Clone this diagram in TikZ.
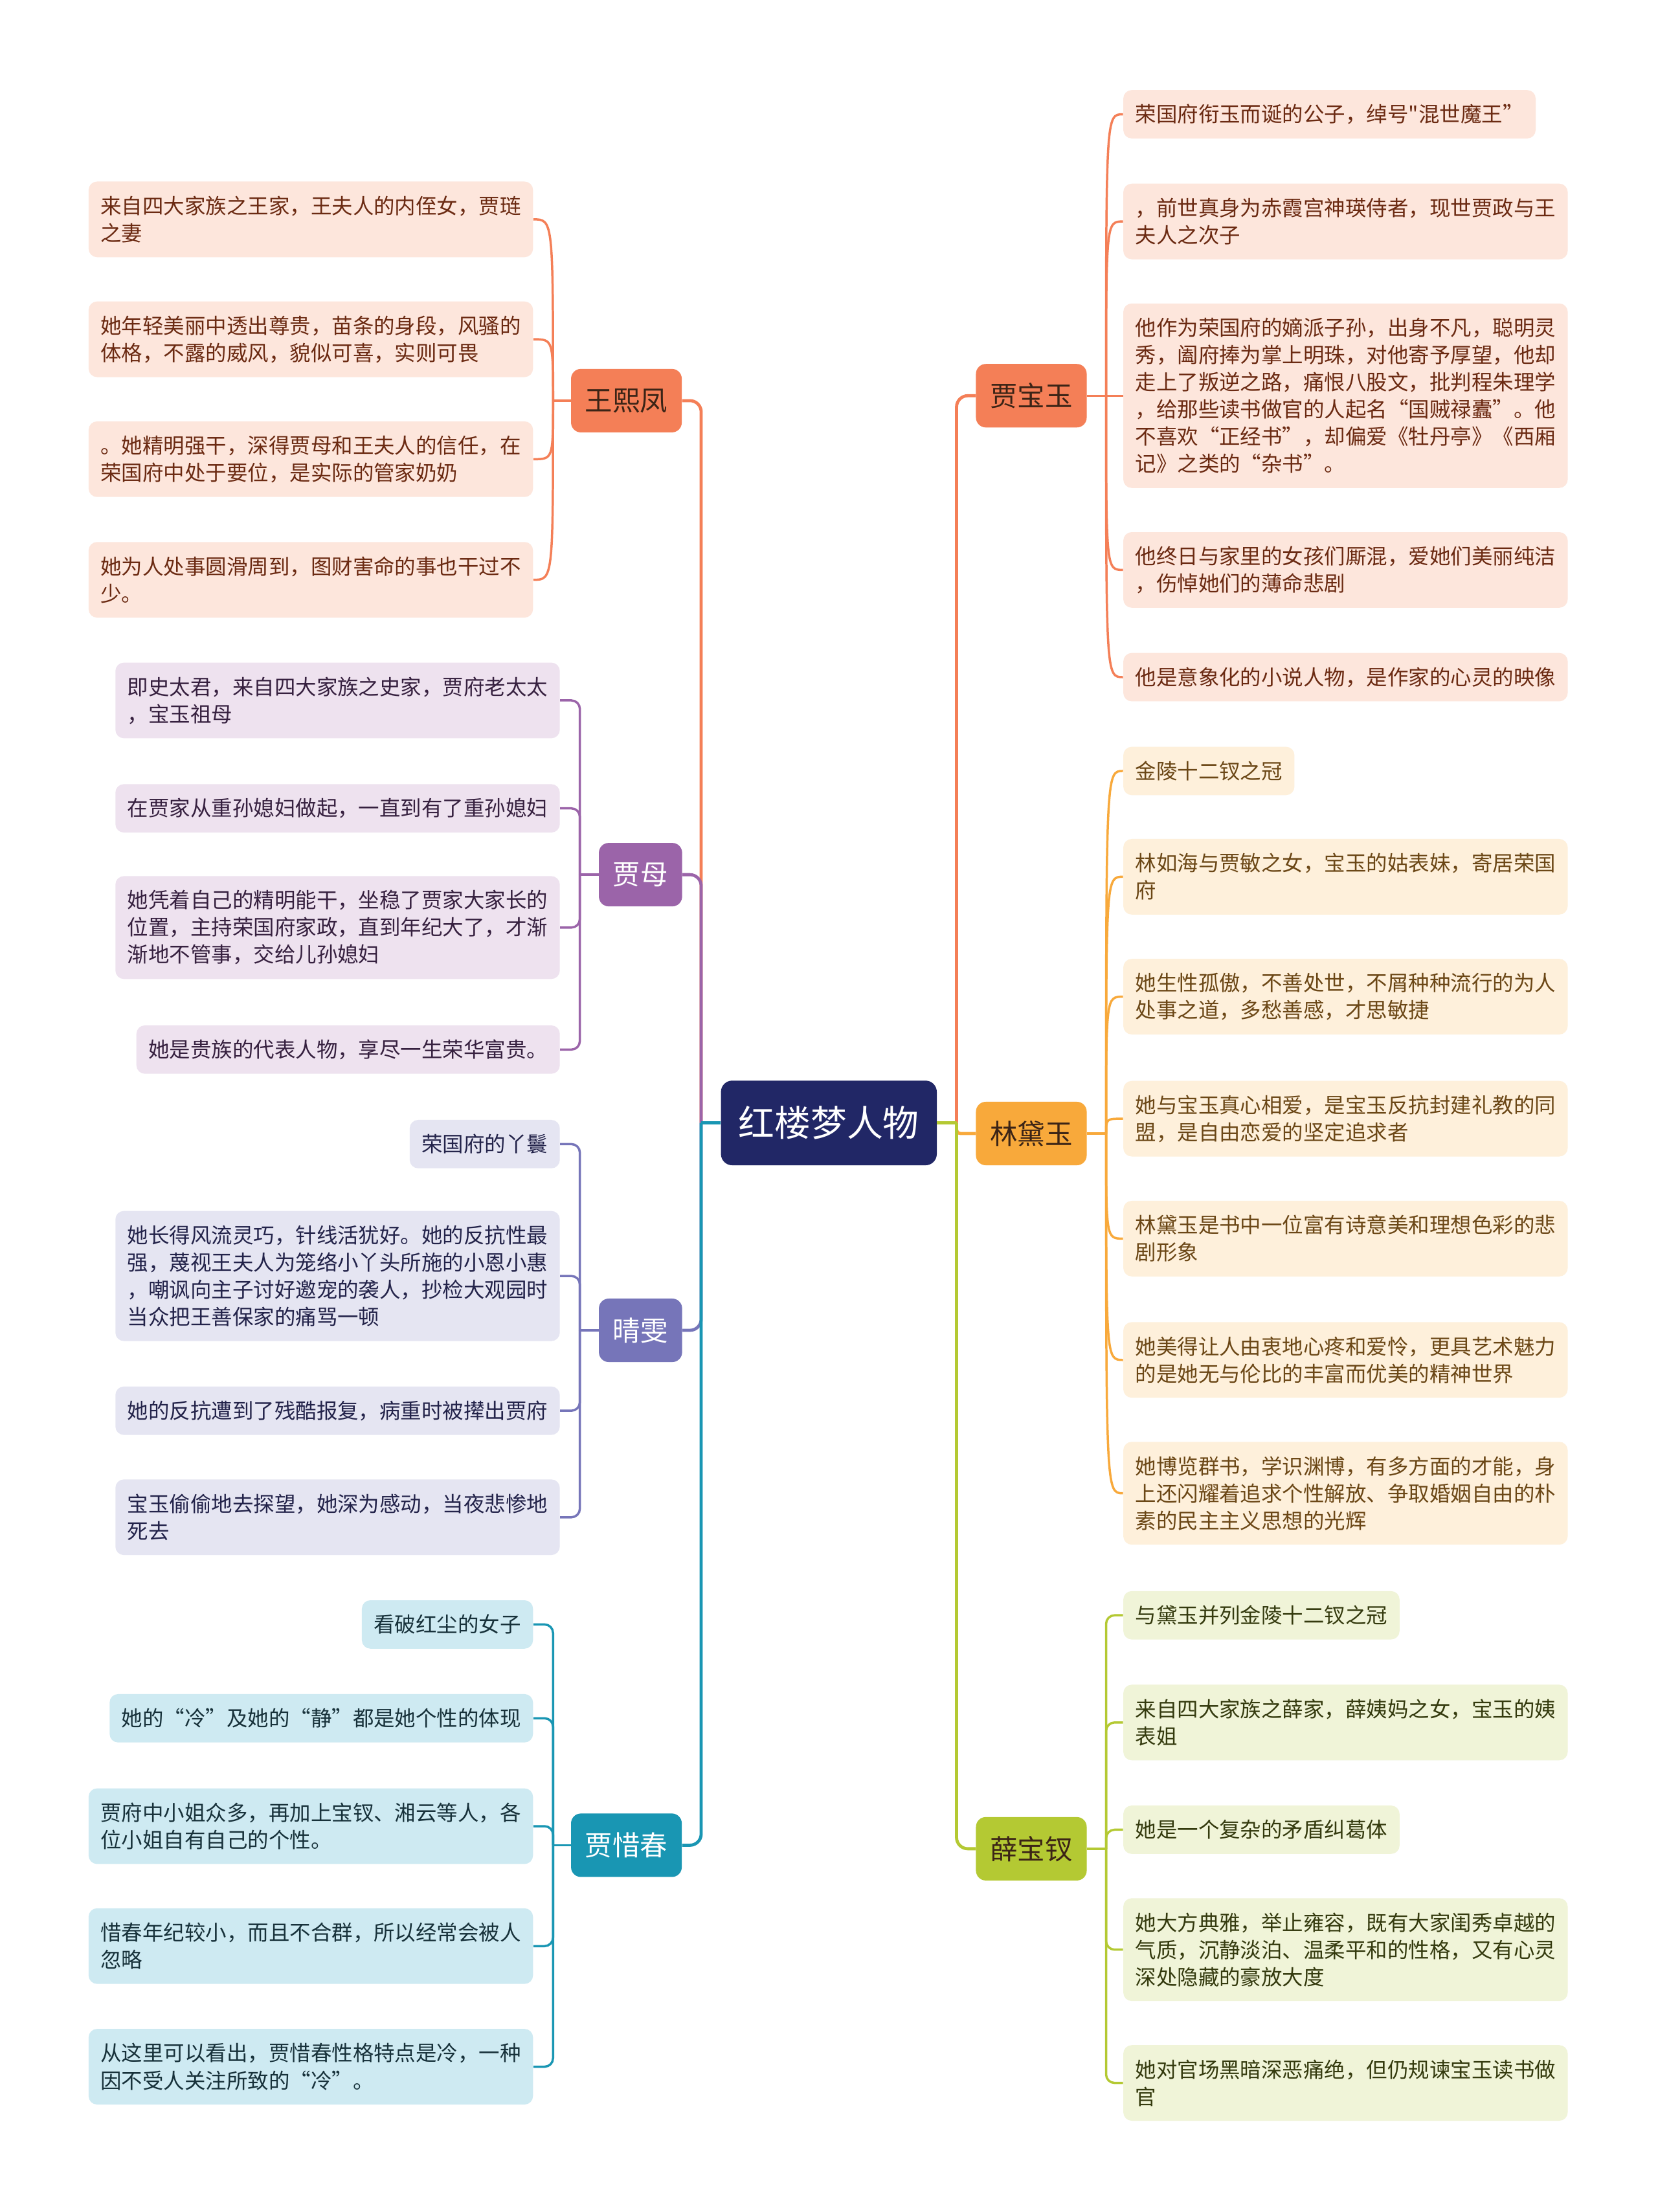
\documentclass[tikz,border=0pt]{standalone}
\usepackage{fontspec}
\setmainfont{Noto Sans CJK SC}
\newfontfamily\rawfont{Noto Sans CJK SC}
\definecolor{cRoot}{HTML}{212766}
\definecolor{cCoral}{HTML}{F47F57}
\definecolor{cOrange}{HTML}{F8A93B}
\definecolor{cGreen}{HTML}{B4C933}
\definecolor{cPurple}{HTML}{9B64A9}
\definecolor{cLav}{HTML}{7675B9}
\definecolor{cTeal}{HTML}{1996B3}
\definecolor{fCoral}{HTML}{FDE6DC}
\definecolor{fOrange}{HTML}{FEF0DB}
\definecolor{fGreen}{HTML}{F0F4D8}
\definecolor{fPurple}{HTML}{EEE2EF}
\definecolor{fLav}{HTML}{E5E5F2}
\definecolor{fTeal}{HTML}{CEEAF2}
\definecolor{tCoral}{HTML}{6B2A12}
\definecolor{tOrange}{HTML}{6B4716}
\definecolor{tGreen}{HTML}{343A0E}
\definecolor{tPurple}{HTML}{36203F}
\definecolor{tLav}{HTML}{23234A}
\definecolor{tTeal}{HTML}{17313A}
\definecolor{tDark}{HTML}{3B2416}
\begin{document}
\begin{tikzpicture}[x=1pt,y=-1pt,
  leaf/.style={rounded corners=6, inner xsep=8.5, inner ysep=0, align=left, font=\fontsize{14.9}{19.3}\selectfont},
  lr/.style={leaf, anchor=west},
  ll/.style={leaf, anchor=east},
  n1/.style={minimum height=34.3},
  n2/.style={minimum height=53.6},
  n3/.style={minimum height=72.9},
  n4/.style={minimum height=92.2},
  n6/.style={minimum height=130.8},
  br/.style={rounded corners=7, minimum height=45, inner xsep=10, inner ysep=0, font=\fontsize{19.5}{23}\selectfont},
  sCoral/.style={fill=fCoral, text=tCoral},
  sOrange/.style={fill=fOrange, text=tOrange},
  sGreen/.style={fill=fGreen, text=tGreen},
  sPurple/.style={fill=fPurple, text=tPurple},
  sLav/.style={fill=fLav, text=tLav},
  sTeal/.style={fill=fTeal, text=tTeal},
  bline/.style={draw=#1, line width=2.2},
  lk/.style={draw=#1, line width=1.6},
]
\useasboundingbox (0,0) rectangle (1175,1568);
\fill[white] (0,0) rectangle (1175,1568);

% root and branches
\node[fill=cRoot, text=white, rounded corners=8, minimum width=153, minimum height=60, inner sep=0, font=\fontsize{25.6}{30}\selectfont] (root) at (587.5,796) {红楼梦人物};
\node[br, fill=cCoral, text=tDark, minimum width=78] (wxf) at (444,284) {王熙凤};
\node[br, fill=cPurple, text=white, minimum width=58] (jm) at (454,620) {贾母};
\node[br, fill=cLav, text=white, minimum width=58] (qw) at (454,943) {晴雯};
\node[br, fill=cTeal, text=white, minimum width=78] (xc) at (444,1308) {贾惜春};
\node[br, fill=cCoral, text=tDark, minimum width=78] (by) at (731,280.5) {贾宝玉};
\node[br, fill=cOrange, text=tDark, minimum width=78] (dy) at (731,803.5) {林黛玉};
\node[br, fill=cGreen, text=tDark, minimum width=78] (bc) at (731,1310.5) {薛宝钗};

% junctions
\coordinate (jl) at (497,796);
\coordinate (jr) at (678,796);
\coordinate (jw) at (392,284);
\coordinate (jjm) at (411,620);
\coordinate (jq) at (411,943);
\coordinate (jx) at (392,1308);
\coordinate (jb) at (784,280.5);
\coordinate (jd) at (784,803.5);
\coordinate (jc) at (784,1310.5);

% root connectors
\draw[bline=cCoral, rounded corners=8] (jl) |- (wxf.east);
\draw[bline=cPurple, rounded corners=8] (jl) |- (jm.east);
\draw[bline=cLav, rounded corners=8] (jl) |- (qw.east);
\draw[bline=cTeal, rounded corners=8] (jl) |- (xc.east);
\draw[bline=cTeal] (root.west) -- (jl);
\draw[bline=cCoral, rounded corners=8] (jr) |- (by.west);
\draw[bline=cOrange, rounded corners=3] (jr) |- (dy.west);
\draw[bline=cGreen, rounded corners=8] (jr) |- (bc.west);
\draw[bline=cGreen] (root.east) -- (jr);

% ---------- leaves: 王熙凤
\node[ll, n2, sCoral] (w1) at (378,155.5) {来自四大家族之王家，王夫人的内侄女，贾琏\\之妻};
\node[ll, n2, sCoral] (w2) at (378,240.5) {她年轻美丽中透出尊贵，苗条的身段，风骚的\\体格，不露的威风，貌似可喜，实则可畏};
\node[ll, n2, sCoral] (w3) at (378,325.5) {。她精明强干，深得贾母和王夫人的信任，在\\荣国府中处于要位，是实际的管家奶奶};
\node[ll, n2, sCoral] (w4) at (378,411) {她为人处事圆滑周到，图财害命的事也干过不\\少。};
\draw[lk=cCoral] (wxf.west) -- (jw);
\foreach \c in {w1,w2,w3,w4}{\draw[lk=cCoral] (jw) .. controls (jw |- \c.east) .. (\c.east);}

% ---------- 贾母
\node[ll, n2, sPurple] (m1) at (397,496.5) {即史太君，来自四大家族之史家，贾府老太太\\，宝玉祖母};
\node[ll, n1, sPurple] (m2) at (397,573) {在贾家从重孙媳妇做起，一直到有了重孙媳妇};
\node[ll, n3, sPurple] (m3) at (397,657.5) {她凭着自己的精明能干，坐稳了贾家大家长的\\位置，主持荣国府家政，直到年纪大了，才渐\\渐地不管事，交给儿孙媳妇};
\node[ll, n1, sPurple] (m4) at (397,744) {她是贵族的代表人物，享尽一生荣华富贵。};
\draw[lk=cPurple] (jm.west) -- (jjm);
\foreach \c in {m1,m2,m3,m4}{\draw[lk=cPurple, rounded corners=6] (jjm) |- (\c.east);}

% ---------- 晴雯
\node[ll, n1, sLav] (q1) at (397,811) {荣国府的丫鬟};
\node[ll, n4, sLav] (q2) at (397,904.5) {她长得风流灵巧，针线活犹好。她的反抗性最\\强，蔑视王夫人为笼络小丫头所施的小恩小惠\\，嘲讽向主子讨好邀宠的袭人，抄检大观园时\\当众把王善保家的痛骂一顿};
\node[ll, n1, sLav] (q3) at (397,1000) {她的反抗遭到了残酷报复，病重时被撵出贾府};
\node[ll, n2, sLav] (q4) at (397,1075.5) {宝玉偷偷地去探望，她深为感动，当夜悲惨地\\死去};
\draw[lk=cLav] (qw.west) -- (jq);
\foreach \c in {q1,q2,q3,q4}{\draw[lk=cLav, rounded corners=6] (jq) |- (\c.east);}

% ---------- 贾惜春
\node[ll, n1, sTeal] (x1) at (378,1151.5) {看破红尘的女子};
\node[ll, n1, sTeal] (x2) at (378,1218) {她的“冷”及她的“静”都是她个性的体现};
\node[ll, n2, sTeal] (x3) at (378,1294.5) {贾府中小姐众多，再加上宝钗、湘云等人，各\\位小姐自有自己的个性。};
\node[ll, n2, sTeal] (x4) at (378,1379.5) {惜春年纪较小，而且不合群，所以经常会被人\\忽略};
\node[ll, n2, sTeal] (x5) at (378,1465) {从这里可以看出，贾惜春性格特点是冷，一种\\因不受人关注所致的“冷”。};
\draw[lk=cTeal] (xc.west) -- (jx);
\foreach \c in {x1,x2,x3,x4,x5}{\draw[lk=cTeal, rounded corners=6] (jx) |- (\c.east);}

% ---------- 贾宝玉
\node[lr, n1, sCoral] (b1) at (796,81) {荣国府衔玉而诞的公子，绰号{\rawfont"}混世魔王”};
\node[lr, n2, sCoral] (b2) at (796,157) {，前世真身为赤霞宫神瑛侍者，现世贾政与王\\夫人之次子};
\node[lr, n6, sCoral] (b3) at (796,280.5) {他作为荣国府的嫡派子孙，出身不凡，聪明灵\\秀，阖府捧为掌上明珠，对他寄予厚望，他却\\走上了叛逆之路，痛恨八股文，批判程朱理学\\，给那些读书做官的人起名“国贼禄蠹”。他\\不喜欢“正经书”，却偏爱《牡丹亭》《西厢\\记》之类的“杂书”。};
\node[lr, n2, sCoral] (b4) at (796,404) {他终日与家里的女孩们厮混，爱她们美丽纯洁\\，伤悼她们的薄命悲剧};
\node[lr, n1, sCoral] (b5) at (796,480) {他是意象化的小说人物，是作家的心灵的映像};
\draw[lk=cCoral] (by.east) -- (jb);
\foreach \c in {b1,b2,b3,b4,b5}{\draw[lk=cCoral] (jb) .. controls (jb |- \c.west) .. (\c.west);}

% ---------- 林黛玉
\node[lr, n1, sOrange] (d1) at (796,546.5) {金陵十二钗之冠};
\node[lr, n2, sOrange] (d2) at (796,621.5) {林如海与贾敏之女，宝玉的姑表妹，寄居荣国\\府};
\node[lr, n2, sOrange] (d3) at (796,706.5) {她生性孤傲，不善处世，不屑种种流行的为人\\处事之道，多愁善感，才思敏捷};
\node[lr, n2, sOrange] (d4) at (796,793) {她与宝玉真心相爱，是宝玉反抗封建礼教的同\\盟，是自由恋爱的坚定追求者};
\node[lr, n2, sOrange] (d5) at (796,878) {林黛玉是书中一位富有诗意美和理想色彩的悲\\剧形象};
\node[lr, n2, sOrange] (d6) at (796,964) {她美得让人由衷地心疼和爱怜，更具艺术魅力\\的是她无与伦比的丰富而优美的精神世界};
\node[lr, n3, sOrange] (d7) at (796,1058.5) {她博览群书，学识渊博，有多方面的才能，身\\上还闪耀着追求个性解放、争取婚姻自由的朴\\素的民主主义思想的光辉};
\draw[lk=cOrange] (dy.east) -- (jd);
\foreach \c in {d1,d2,d3,d4,d5,d6,d7}{\draw[lk=cOrange] (jd) .. controls (jd |- \c.west) .. (\c.west);}

% ---------- 薛宝钗
\node[lr, n1, sGreen] (c1) at (796,1145) {与黛玉并列金陵十二钗之冠};
\node[lr, n2, sGreen] (c2) at (796,1221) {来自四大家族之薛家，薛姨妈之女，宝玉的姨\\表姐};
\node[lr, n1, sGreen] (c3) at (796,1297) {她是一个复杂的矛盾纠葛体};
\node[lr, n3, sGreen] (c4) at (796,1382) {她大方典雅，举止雍容，既有大家闺秀卓越的\\气质，沉静淡泊、温柔平和的性格，又有心灵\\深处隐藏的豪放大度};
\node[lr, n2, sGreen] (c5) at (796,1476.5) {她对官场黑暗深恶痛绝，但仍规谏宝玉读书做\\官};
\draw[lk=cGreen] (bc.east) -- (jc);
\foreach \c in {c1,c2,c3,c4,c5}{\draw[lk=cGreen, rounded corners=6] (jc) |- (\c.west);}
\end{tikzpicture}
\end{document}
